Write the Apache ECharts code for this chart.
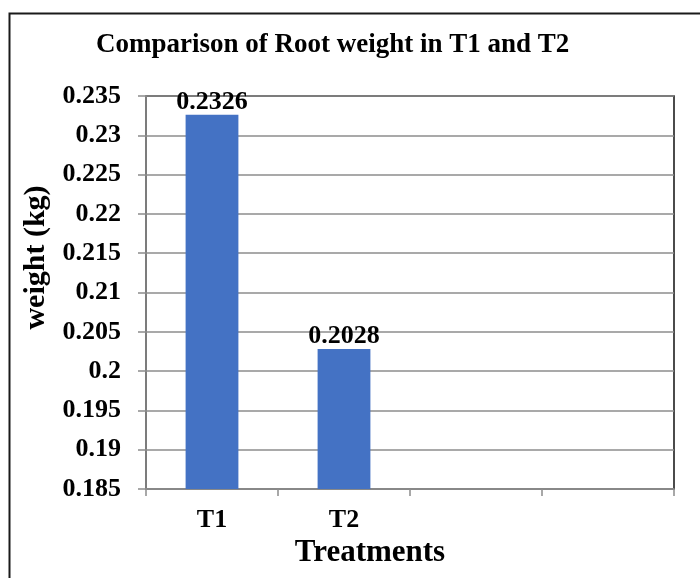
<!DOCTYPE html>
<html>
<head>
<meta charset="utf-8">
<script src="https://cdn.jsdelivr.net/npm/echarts@6/dist/echarts.min.js"></script>
<style>
  html, body { margin: 0; padding: 0; background: #fff; }
  #chart { width: 700px; height: 578px; }
</style>
</head>
<body>
<div id="chart"></div>
<script>
// Root weight per treatment (kg); the two trailing slots are empty categories
const categories = ['T1', 'T2', '', ''];
const rootWeight = [0.2326, 0.2028, null, null];
const yMin = 0.185;
const yMax = 0.235;
const yStep = 0.005;

const serif = '"Liberation Serif", "Times New Roman", serif';
const gridGray = '#8c8c8c';

const chart = echarts.init(document.getElementById('chart'), null, { renderer: 'canvas' });

chart.setOption({
  backgroundColor: '#ffffff',
  animation: false,
  title: {
    text: 'Comparison of Root weight in T1 and T2',
    left: 96,
    top: 32,
    padding: 0,
    textStyle: { fontFamily: serif, fontWeight: 'bold', fontSize: 27, color: '#000' }
  },
  graphic: [{
    type: 'rect',
    left: 7,
    top: 11,
    shape: { width: 720, height: 620 },
    style: { fill: 'none', stroke: '#1a1a1a', lineWidth: 2 },
    silent: true,
    z: -1
  }],
  grid: {
    left: 146,
    right: 26,
    top: 96,
    bottom: 89,
    show: true,
    borderColor: '#111',
    borderWidth: 1.5,
    containLabel: false
  },
  xAxis: {
    type: 'category',
    data: categories,
    boundaryGap: true,
    name: 'Treatments',
    nameLocation: 'middle',
    nameGap: 46,
    nameTextStyle: {
      fontFamily: serif, fontWeight: 'bold', fontSize: 31, color: '#000',
      padding: [0, 80, 0, 0]
    },
    axisLine: { show: true, lineStyle: { color: gridGray, width: 1.5 } },
    axisTick: { show: true, alignWithLabel: false, length: 7, lineStyle: { color: gridGray, width: 1.5 } },
    axisLabel: {
      margin: 18,
      fontFamily: serif, fontWeight: 'bold', fontSize: 26, color: '#000'
    },
    splitLine: { show: false }
  },
  yAxis: {
    type: 'value',
    min: yMin,
    max: yMax,
    interval: yStep,
    name: 'weight (kg)',
    nameLocation: 'middle',
    nameGap: 91,
    nameTextStyle: {
      fontFamily: serif, fontWeight: 'bold', fontSize: 30, color: '#000',
      padding: [0, 0, 0, 70]
    },
    axisLine: { show: true, lineStyle: { color: gridGray, width: 1.5 } },
    axisTick: { show: true, inside: false, length: 8, lineStyle: { color: gridGray, width: 1.5 } },
    axisLabel: {
      margin: 25,
      fontFamily: serif, fontWeight: 'bold', fontSize: 26, color: '#000',
      formatter: function (v) { return String(parseFloat(v.toFixed(3))); }
    },
    splitLine: { show: true, lineStyle: { color: gridGray, width: 1.5 } }
  },
  series: [{
    type: 'bar',
    data: rootWeight,
    barWidth: '40%',
    itemStyle: { color: '#4472C4' },
    label: {
      show: true,
      position: 'top',
      distance: 0,
      fontFamily: serif, fontWeight: 'bold', fontSize: 26, color: '#000',
      formatter: function (p) { return p.value == null ? '' : String(p.value); }
    },
    z: 3
  }]
});
</script>
</body>
</html>
